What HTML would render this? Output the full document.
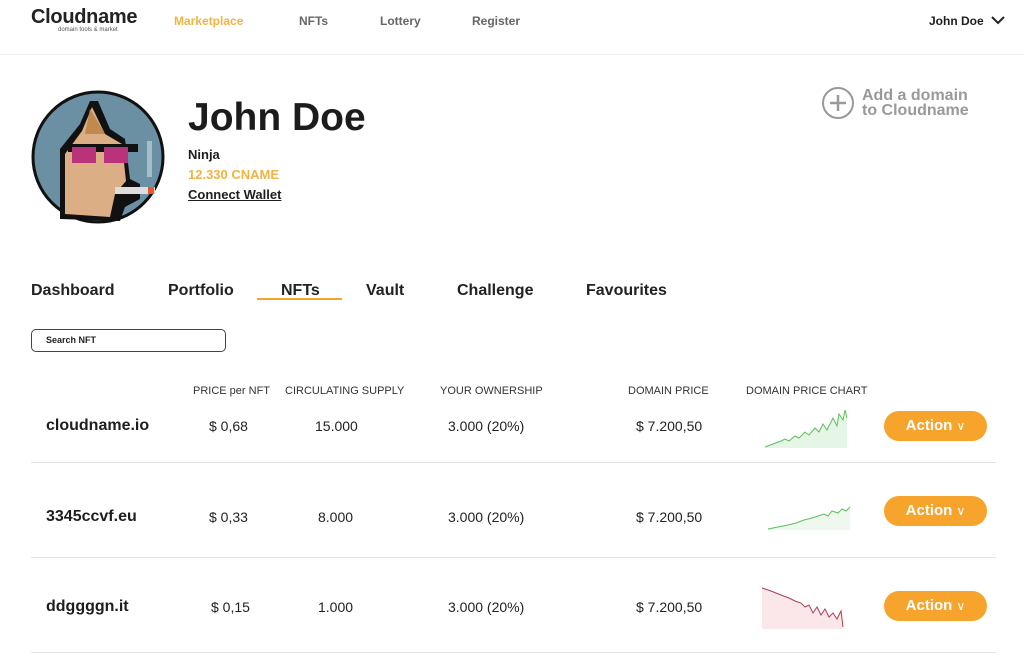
<!DOCTYPE html>
<html><head><meta charset="utf-8"><style>
body{margin:0;width:1024px;height:657px;background:#fff;font-family:"Liberation Sans",sans-serif;position:relative;overflow:hidden;color:#1e1e1e}
.a{position:absolute;white-space:nowrap}
.nav{font-size:12px;color:#666;font-weight:bold;top:14px}
.tab{font-size:16px;font-weight:bold;top:282px;color:#222}
.hd{font-size:11px;color:#333;top:385px}
.dn{font-size:16px;font-weight:bold;left:46px}
.v{font-size:14px;color:#222}
.btn{left:884px;width:103px;height:30px;border-radius:15px;background:#f7a42c;color:#fff;font-weight:bold;font-size:15px;text-align:center;line-height:30px}
.ln{left:31px;width:965px;height:1px;background:#e4e4e4}
</style></head><body>
<div class="a" style="left:31px;top:6px;font-size:20px;font-weight:bold;color:#222;letter-spacing:-0.3px">Cloudname</div>
<div class="a" style="left:58px;top:27px;font-size:6px;color:#555">domain tools &amp; market</div>
<div class="a nav" style="left:174px;color:#f0b444">Marketplace</div>
<div class="a nav" style="left:299px">NFTs</div>
<div class="a nav" style="left:380px">Lottery</div>
<div class="a nav" style="left:472px">Register</div>
<div class="a" style="left:929px;top:14px;font-size:12px;font-weight:bold">John Doe</div>
<svg class="a" style="left:990px;top:15px" width="16" height="10"><path d="M2 2l6 6 6-6" stroke="#222" stroke-width="2" fill="none"/></svg>
<div class="a" style="left:0;top:54px;width:1024px;height:1px;background:#eee"></div>

<svg class="a" style="left:30px;top:89px" width="136" height="136">
<circle cx="68" cy="68" r="65" fill="#6b8fa3" stroke="#111" stroke-width="3"/>
<path d="M30 130 L30 60 L50 35 L60 12 L68 12 L80 40 L95 50 L100 90 L110 95 L110 110 L95 118 L90 132 Z" fill="#111"/>
<path d="M35 125 L35 65 L52 42 L62 18 L75 45 L92 55 L96 92 L85 105 L80 128 Z" fill="#dcae85"/>
<path d="M60 20 L75 45 L55 45 Z" fill="#c08a4e"/>
<rect x="38" y="55" width="70" height="8" fill="#111"/>
<rect x="42" y="58" width="24" height="16" fill="#b8337a"/><rect x="74" y="58" width="24" height="16" fill="#b8337a"/>
<rect x="85" y="98" width="40" height="7" fill="#ddd"/><rect x="118" y="98" width="6" height="7" fill="#e8592a"/>
<rect x="117" y="52" width="5" height="36" fill="#a7bccb"/>
</svg>
<div class="a" style="left:188px;top:96px;font-size:39px;font-weight:bold;color:#1c1c1c">John Doe</div>
<div class="a" style="left:188px;top:147px;font-size:13px;font-weight:bold">Ninja</div>
<div class="a" style="left:188px;top:167px;font-size:13px;font-weight:bold;color:#f0b444">12.330 CNAME</div>
<div class="a" style="left:188px;top:187px;font-size:13px;font-weight:bold;text-decoration:underline">Connect Wallet</div>

<svg class="a" style="left:821px;top:86px" width="34" height="34"><circle cx="17" cy="17" r="15" fill="none" stroke="#999" stroke-width="2"/><path d="M17 9v16M9 17h16" stroke="#999" stroke-width="2.5"/></svg>
<div class="a" style="left:862px;top:88px;font-size:16px;font-weight:bold;color:#999;line-height:15px">Add a domain<br>to Cloudname</div>

<div class="a tab" style="left:31px">Dashboard</div>
<div class="a tab" style="left:168px">Portfolio</div>
<div class="a tab" style="left:281px">NFTs</div>
<div class="a tab" style="left:366px">Vault</div>
<div class="a tab" style="left:457px">Challenge</div>
<div class="a tab" style="left:586px">Favourites</div>
<div class="a" style="left:257px;top:298px;width:85px;height:2px;background:#f7a42c"></div>

<div class="a" style="left:31px;top:329px;width:193px;height:21px;border:1.5px solid #444;border-radius:5px"></div>
<div class="a" style="left:46px;top:335px;font-size:9px;font-weight:bold">Search NFT</div>

<div class="a hd" style="left:193px">PRICE per NFT</div>
<div class="a hd" style="left:285px">CIRCULATING SUPPLY</div>
<div class="a hd" style="left:440px">YOUR OWNERSHIP</div>
<div class="a hd" style="left:628px">DOMAIN PRICE</div>
<div class="a hd" style="left:746px">DOMAIN PRICE CHART</div>

<div class="a dn" style="top:417px">cloudname.io</div>
<div class="a v" style="left:209px;top:418px">$ 0,68</div>
<div class="a v" style="left:315px;top:418px">15.000</div>
<div class="a v" style="left:448px;top:418px">3.000 (20%)</div>
<div class="a v" style="left:636px;top:418px">$ 7.200,50</div>
<svg class="a" style="left:763px;top:406px" width="85" height="44"><path d="M2 41 L10 38 L18 35 L22 33 L26 35 L32 30 L36 32 L42 26 L46 29 L52 22 L56 26 L60 18 L64 24 L70 12 L74 20 L76 8 L80 14 L82 4 L84 12 L84 42 L2 42Z" fill="#e6f6e6"/><path d="M2 41 L10 38 L18 35 L22 33 L26 35 L32 30 L36 32 L42 26 L46 29 L52 22 L56 26 L60 18 L64 24 L70 12 L74 20 L76 8 L80 14 L82 4 L84 12" stroke="#5cbf5c" fill="none"/></svg>
<div class="a btn" style="top:411px">Action <span style="font-weight:normal;font-size:12px">∨</span></div>
<div class="a ln" style="top:462px"></div>

<div class="a dn" style="top:508px">3345ccvf.eu</div>
<div class="a v" style="left:209px;top:509px">$ 0,33</div>
<div class="a v" style="left:318px;top:509px">8.000</div>
<div class="a v" style="left:448px;top:509px">3.000 (20%)</div>
<div class="a v" style="left:636px;top:509px">$ 7.200,50</div>
<svg class="a" style="left:766px;top:505px" width="85" height="26"><path d="M2 24 L12 22 L22 20 L30 18 L38 15 L46 13 L52 11 L58 9 L62 11 L66 6 L72 8 L76 4 L80 6 L84 2 L84 25 L2 25Z" fill="#eef8ee"/><path d="M2 24 L12 22 L22 20 L30 18 L38 15 L46 13 L52 11 L58 9 L62 11 L66 6 L72 8 L76 4 L80 6 L84 2" stroke="#5cbf5c" fill="none"/></svg>
<div class="a btn" style="top:496px">Action <span style="font-weight:normal;font-size:12px">∨</span></div>
<div class="a ln" style="top:557px"></div>

<div class="a dn" style="top:598px">ddggggn.it</div>
<div class="a v" style="left:211px;top:599px">$ 0,15</div>
<div class="a v" style="left:318px;top:599px">1.000</div>
<div class="a v" style="left:448px;top:599px">3.000 (20%)</div>
<div class="a v" style="left:636px;top:599px">$ 7.200,50</div>
<svg class="a" style="left:761px;top:585px" width="85" height="46"><path d="M1 3 L10 6 L20 10 L28 13 L34 16 L40 18 L44 22 L48 20 L52 28 L56 22 L60 30 L64 24 L68 32 L72 28 L76 34 L80 26 L82 42 L82 44 L1 44Z" fill="#fbe6ea"/><path d="M1 3 L10 6 L20 10 L28 13 L34 16 L40 18 L44 22 L48 20 L52 28 L56 22 L60 30 L64 24 L68 32 L72 28 L76 34 L80 26 L82 42" stroke="#a9404f" fill="none"/></svg>
<div class="a btn" style="top:591px">Action <span style="font-weight:normal;font-size:12px">∨</span></div>
<div class="a ln" style="top:652px"></div>
</body></html>
